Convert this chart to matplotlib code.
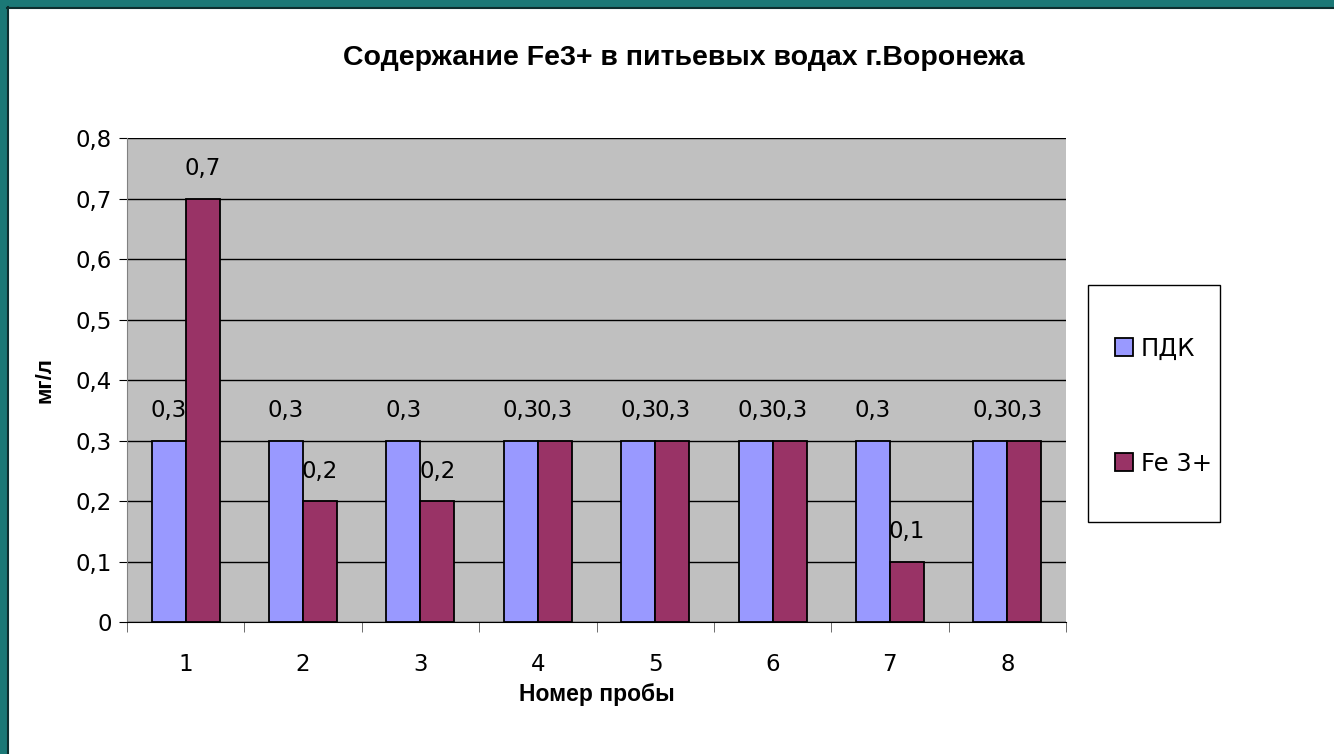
import matplotlib
matplotlib.use("Agg")
import matplotlib.pyplot as plt
import matplotlib.patches as mpatches
import numpy as np

# data
samples = ["1", "2", "3", "4", "5", "6", "7", "8"]
pdk = [0.3, 0.3, 0.3, 0.3, 0.3, 0.3, 0.3, 0.3]
fe3 = [0.7, 0.2, 0.2, 0.3, 0.3, 0.3, 0.1, 0.3]
y_ticks = [0, 0.1, 0.2, 0.3, 0.4, 0.5, 0.6, 0.7, 0.8]


def comma(v):
    s = "%g" % v
    return s.replace(".", ",")


fig = plt.figure(figsize=(13.34, 7.54), dpi=100)
fig.patch.set_facecolor("white")

# teal frame at top and left
fig.patches.append(mpatches.Rectangle((0, 1 - 7 / 754), 1, 7 / 754, transform=fig.transFigure,
                                      facecolor="#1b7876", edgecolor="none", zorder=0))
fig.patches.append(mpatches.Rectangle((0, 0), 7 / 1334, 1, transform=fig.transFigure,
                                      facecolor="#1b7876", edgecolor="none", zorder=0))
fig.add_artist(plt.Line2D([7 / 1334, 1], [1 - 7.5 / 754] * 2, transform=fig.transFigure,
                          color="#0d2e2e", lw=1.5))
fig.add_artist(plt.Line2D([7.5 / 1334] * 2, [0, 1 - 7 / 754], transform=fig.transFigure,
                          color="#0d2e2e", lw=1.5))

ax = fig.add_axes([127 / 1334, 1 - 622 / 754, (1066 - 127) / 1334, (622 - 138) / 754])
ax.set_facecolor("#c0c0c0")

x = np.arange(len(samples))
w = 0.29
b1 = ax.bar(x - w / 2, pdk, w, color="#9999ff", edgecolor="black", linewidth=1.3,
            label="ПДК", zorder=3)
b2 = ax.bar(x + w / 2, fe3, w, color="#993366", edgecolor="black", linewidth=1.3,
            label="Fe 3+", zorder=3)

for bars, vals in ((b1, pdk), (b2, fe3)):
    for r, v in zip(bars, vals):
        ax.annotate(comma(v), (r.get_x() + r.get_width() / 2, v), xytext=(0, 13),
                    textcoords="offset points", ha="center", va="bottom",
                    fontsize=16.5, family="DejaVu Sans", zorder=4)

ax.set_xlim(-0.5, len(samples) - 0.5)
ax.set_ylim(0, 0.8)
ax.set_yticks(y_ticks)
ax.set_yticklabels([comma(v) for v in y_ticks], fontsize=16.5)
ax.yaxis.grid(True, color="black", linewidth=1, zorder=1)
ax.set_axisbelow(True)

ax.set_xticks(x)
ax.set_xticklabels(samples, fontsize=16.5)
ax.set_xticks(np.arange(-0.5, len(samples)), minor=True)
ax.tick_params(axis="x", which="major", length=0, pad=22)
ax.tick_params(axis="x", which="minor", length=7, direction="out", color="#555555")
ax.tick_params(axis="y", length=6, direction="out", pad=5)

for s in ("top", "right"):
    ax.spines[s].set_visible(False)
ax.spines["left"].set_color("#808080")
ax.spines["bottom"].set_color("black")

ax.set_ylabel("мг/л", fontsize=16, fontweight="bold", family="Liberation Sans", labelpad=14)
ax.set_xlabel("Номер пробы", fontsize=16.5, fontweight="bold", family="Liberation Sans",
              labelpad=5)

fig.text(684 / 1334, 1 - 58 / 754, "Содержание Fe3+ в питьевых водах г.Воронежа",
         ha="center", va="center", fontsize=20.5, fontweight="bold", family="Liberation Sans")

# legend box drawn separately so it can be sized like the original
fig.patches.append(mpatches.Rectangle((1088 / 1334, 1 - 522 / 754), 132 / 1334, 237 / 754,
                                      transform=fig.transFigure, facecolor="white",
                                      edgecolor="black", linewidth=1, zorder=1))
leg = fig.legend(handles=[b1, b2], loc="center left",
                 bbox_to_anchor=(1115 / 1334, 1 - 406 / 754), fontsize=17.5,
                 frameon=False, labelspacing=3.75,
                 handlelength=0.75, handleheight=0.75, handletextpad=0.3,
                 borderpad=0, borderaxespad=0)

fig.savefig("out.png", dpi=100)
